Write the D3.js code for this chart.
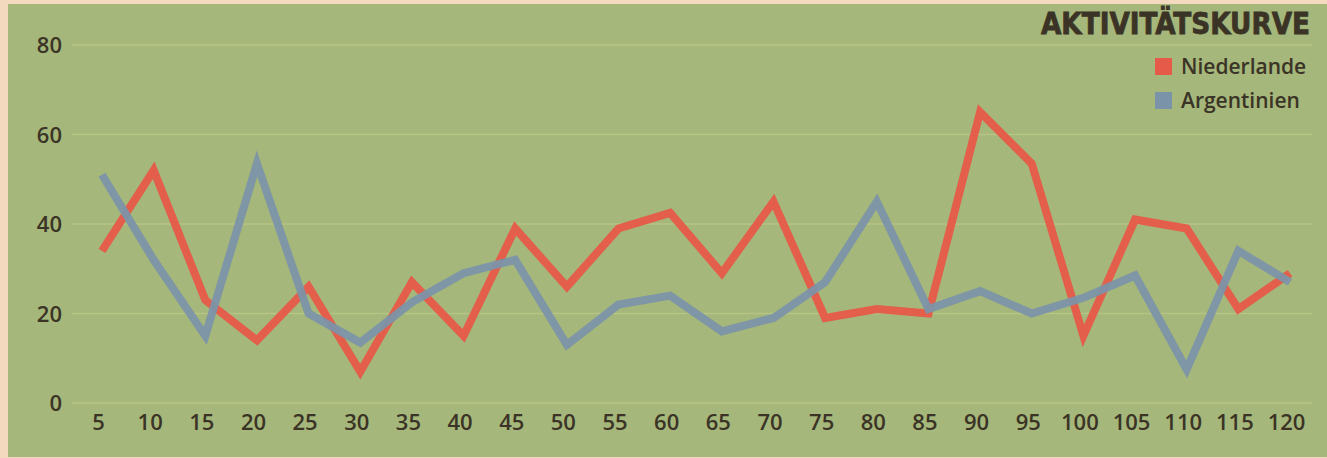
<!DOCTYPE html>
<html><head><meta charset="utf-8">
<script src="https://cdn.jsdelivr.net/npm/d3@7"></script>
<style>body{margin:0;background:#f3d9bd;}svg{display:block}</style>
</head><body>
<svg id="c" width="1327" height="458"></svg>
<script>
const minutes = [5,10,15,20,25,30,35,40,45,50,55,60,65,70,75,80,85,90,95,100,105,110,115,120];
const niederlande = [34,52,23,14,26,7,27,15,39,26,39,42.5,29,45,19,21,20,65,53.5,15,41,39,21,29];
const argentinien = [51,32,15,53.5,20,13.5,22.5,29,32,13,22,24,16,19,27,45,21,25,20,23.5,28.5,7.5,34,27];
const yTicks = [0,20,40,60,80];
const seriesNames = ["Niederlande","Argentinien"];
const colors = ["#e65a49","#7b93a8"];
const title = "AKTIVITÄTSKURVE";

const svg = d3.select("#c");
svg.append("rect").attr("x",8).attr("y",4).attr("width",1319).attr("height",453).attr("fill","#a5b77a");

const x = d3.scaleLinear().domain([5,120]).range([102,1290]);
const y = d3.scaleLinear().domain([0,80]).range([403,45]);

// grid
svg.append("g").selectAll("line").data(yTicks).join("line")
  .attr("x1",72).attr("x2",1312).attr("y1",d=>y(d)).attr("y2",d=>y(d))
  .attr("stroke","#c6cd8e").attr("stroke-width",1.5).attr("opacity",0.6);

const textCol = "#3b3426";
const font = "'Open Sans', 'DejaVu Sans', sans-serif";

// y axis
const ya = svg.append("g").attr("transform","translate(62,0)")
  .call(d3.axisLeft(y).tickValues(yTicks).tickSize(0).tickPadding(0));
ya.select(".domain").remove();
ya.selectAll("text").attr("font-family",font).attr("font-size",22).attr("font-weight",600).attr("fill",textCol).attr("dy","0.35em");

// x axis
const xa = svg.append("g").attr("transform","translate(-4,412)")
  .call(d3.axisBottom(x).tickValues(minutes).tickSize(0).tickPadding(0));
xa.select(".domain").remove();
xa.selectAll("text").attr("font-family",font).attr("font-size",22).attr("font-weight",600).attr("fill",textCol).attr("dy","0.8em");

const line = d3.line().x((d,i)=>x(minutes[i])).y(d=>y(d));
[niederlande, argentinien].forEach((s,k)=>{
  svg.append("path").datum(s).attr("d",line).attr("fill","none")
    .attr("stroke",colors[k]).attr("stroke-width",8).attr("stroke-linejoin","miter").attr("stroke-miterlimit",4)
    .attr("opacity",0.95);
});

// title
svg.append("text").attr("x",1310).attr("y",34).attr("text-anchor","end")
  .attr("font-family","'DejaVu Sans Condensed','DejaVu Sans',sans-serif").attr("font-weight","bold")
  .attr("font-size",31).attr("fill",textCol).attr("stroke",textCol).attr("stroke-width",0.8)
  .attr("textLength",269).attr("lengthAdjust","spacingAndGlyphs").text(title);

// legend
const lg = svg.append("g");
seriesNames.forEach((n,k)=>{
  lg.append("rect").attr("x",1155).attr("y",58+k*34).attr("width",17).attr("height",17).attr("fill",colors[k]);
  lg.append("text").attr("x",1181).attr("y",74+k*34).attr("font-family",font).attr("font-size",21).attr("font-weight",600)
    .attr("fill",textCol).text(n);
});
</script>
</body></html>
